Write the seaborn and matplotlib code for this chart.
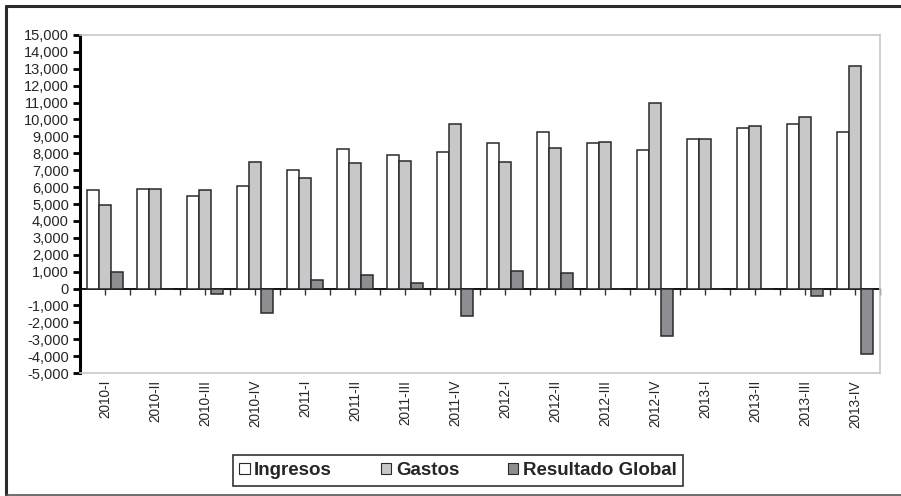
import pandas as pd
import numpy as np
import matplotlib
matplotlib.use('Agg')
import matplotlib.pyplot as plt
import matplotlib.ticker as mticker
from matplotlib.lines import Line2D
import seaborn as sns

trimestres = ['2010-I', '2010-II', '2010-III', '2010-IV',
              '2011-I', '2011-II', '2011-III', '2011-IV',
              '2012-I', '2012-II', '2012-III', '2012-IV',
              '2013-I', '2013-II', '2013-III', '2013-IV']
ingresos = [5850, 5900, 5500, 6050, 7000, 8230, 7900, 8100,
            8600, 9250, 8630, 8200, 8830, 9500, 9730, 9260]
gastos = [4950, 5900, 5850, 7500, 6520, 7420, 7560, 9730,
          7500, 8330, 8680, 11000, 8830, 9600, 10170, 13150]
resultado = [950, -50, -330, -1450, 480, 820, 340, -1600,
             1050, 900, -50, -2810, -30, -50, -430, -3860]
series = ['Ingresos', 'Gastos', 'Resultado Global']
colores = ['#ffffff', '#c8c8cb', '#8e8e92']

df = pd.DataFrame({'Trimestre': trimestres, 'Ingresos': ingresos,
                   'Gastos': gastos, 'Resultado Global': resultado})
df = df.melt(id_vars='Trimestre', var_name='Serie', value_name='Valor')

sns.set_style('white')
plt.rcParams['font.family'] = ['Liberation Sans', 'DejaVu Sans']

fig = plt.figure(figsize=(9.01, 4.96), dpi=100)
ax = fig.add_axes([80 / 901, 1 - 373 / 496, 800 / 901, 338 / 496])

sns.barplot(data=df, x='Trimestre', y='Valor', hue='Serie', hue_order=series,
            order=trimestres, palette=colores, width=0.72, edgecolor='#2a2a2a',
            linewidth=1.1, saturation=1, ax=ax, legend=True)

ax.set_ylim(-5000, 15000)
ax.set_xlim(-0.5, len(trimestres) - 0.5)
ax.yaxis.set_major_locator(mticker.MultipleLocator(1000))
ax.yaxis.set_major_formatter(mticker.FuncFormatter(lambda v, p: f'{int(v):,}'))
ax.set_xlabel('')
ax.set_ylabel('')

for s in ['top', 'right', 'bottom']:
    ax.spines[s].set_color('#c8c8c8')
    ax.spines[s].set_linewidth(1.2)
ax.spines['left'].set_color('black')
ax.spines['left'].set_linewidth(2.2)

ax.tick_params(axis='y', direction='out', length=5, width=2, color='black',
               labelsize=10.5, pad=3, left=True)
ax.tick_params(axis='x', length=0, labelsize=9.8, pad=5, rotation=90)

# eje en cero con marcas
cero = (0 - (-5000)) / (15000 - (-5000))
sec = ax.secondary_xaxis(cero)
sec.spines['bottom'].set_color('black')
sec.spines['bottom'].set_linewidth(1.3)
sec.set_xticks(np.arange(-0.5, len(trimestres), 0.5))
sec.tick_params(axis='x', direction='out', length=4, width=1, color='#333333',
                labelbottom=False, bottom=True)
sec.set_xticklabels([])

# leyenda
handles, labels = ax.get_legend_handles_labels()
ax.get_legend().remove()
leg = fig.legend(handles, labels, loc='center', bbox_to_anchor=(458 / 901, 1 - 470.5 / 496),
                 ncol=3, frameon=True, fancybox=False, edgecolor='black',
                 prop={'weight': 'bold', 'size': 13.5}, handlelength=0.55, handleheight=0.55,
                 handletextpad=0.25, columnspacing=2.6, borderpad=0.35, borderaxespad=0)
leg.get_frame().set_linewidth(1.2)
for h in leg.legend_handles:
    h.set_linewidth(0.8)

# marco exterior
fig.add_artist(Line2D([5.5 / 901, 1.0], [1 - 5.5 / 496] * 2, transform=fig.transFigure,
                      color='#2a2a2a', linewidth=2.2))
fig.add_artist(Line2D([5.5 / 901] * 2, [1 - 5.5 / 496, 1 - 495 / 496],
                      transform=fig.transFigure, color='#2a2a2a', linewidth=2.2))
fig.add_artist(Line2D([5.5 / 901, 1.0], [1 - 494.5 / 496] * 2, transform=fig.transFigure,
                      color='#555555', linewidth=1.2))

fig.savefig('out.png', dpi=100)
